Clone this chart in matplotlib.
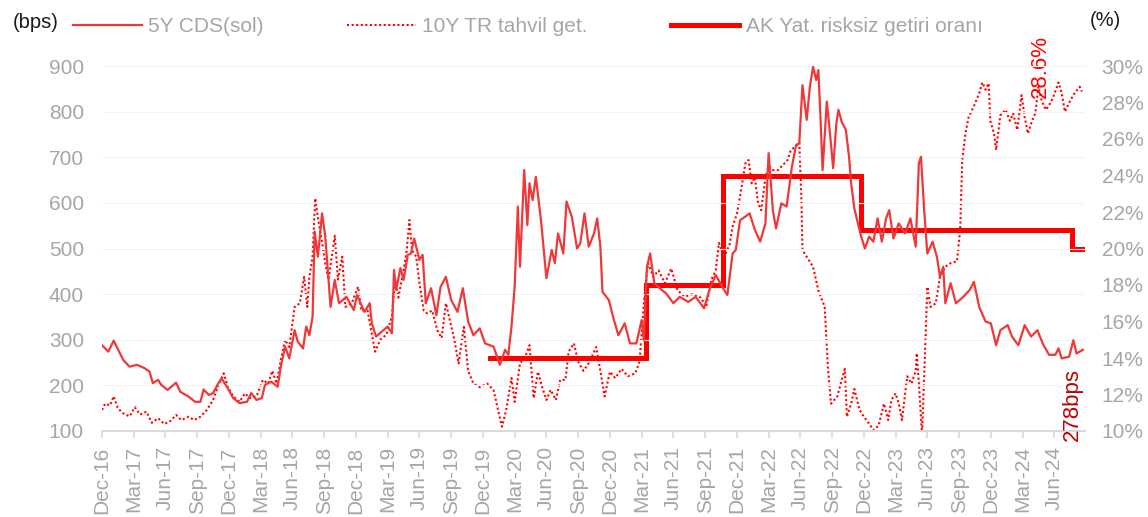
import matplotlib
matplotlib.use("Agg")
import matplotlib.pyplot as plt
from matplotlib.lines import Line2D

plt.rcParams['font.family'] = ['Liberation Sans', 'DejaVu Sans']

# x positions: months elapsed since Dec-16
cds_m = [0.0, 0.6, 1.1, 2.0, 2.6, 3.3, 4.0, 4.5, 4.8, 5.3, 5.6, 6.2, 7.0, 7.4, 8.2, 8.8, 9.3, 9.6, 10.1, 10.5,
         11.0, 11.3, 11.8, 12.4, 13.0, 13.7, 14.1, 14.6, 15.1, 15.4, 16.0, 16.6, 16.9, 17.3, 17.7, 18.2, 18.5, 19.0,
         19.3, 19.6, 19.9, 20.1, 20.4, 20.8, 21.1, 21.6, 22.0, 22.4, 23.1, 23.8, 24.1, 24.8, 25.3, 25.5, 25.9, 26.6,
         27.0, 27.4, 27.6, 27.8, 28.2, 28.5, 28.9, 29.2, 29.5, 30.0, 30.3, 30.6, 31.1, 31.6, 32.0, 32.5, 33.0, 33.6,
         34.1, 34.6, 35.1, 35.7, 36.2, 37.0, 37.6, 38.1, 38.4, 38.7, 39.0, 39.3, 39.5, 39.9, 40.2, 40.4, 40.7, 41.0,
         41.5, 42.0, 42.5, 42.8, 43.1, 43.6, 43.9, 44.4, 44.9, 45.2, 45.6, 46.0, 46.5, 46.8, 47.1, 47.3, 47.9, 48.3,
         48.8, 49.4, 49.9, 50.5, 51.0, 51.2, 51.5, 51.8, 52.2, 52.9, 53.3, 54.0, 54.6, 55.4, 56.1, 56.9, 57.4, 58.0,
         58.8, 59.1, 59.6, 59.9, 60.3, 60.8, 61.2, 61.7, 62.2, 62.7, 63.0, 63.4, 63.7, 64.2, 64.7, 65.2, 65.6, 65.9,
         66.2, 66.6, 66.9, 67.2, 67.5, 67.7, 67.9, 68.1, 68.5, 68.8, 69.1, 69.4, 69.6, 69.9, 70.3, 70.6, 70.8, 71.1,
         71.4, 71.7, 72.1, 72.5, 72.9, 73.3, 73.7, 74.1, 74.4, 74.8, 75.3, 75.9, 76.4, 76.9, 77.2, 77.4, 77.7, 78.0,
         78.5, 78.9, 79.2, 79.5, 79.7, 80.2, 80.7, 81.4, 82.0, 82.4, 82.9, 83.5, 84.0, 84.5, 84.9, 85.6, 86.0, 86.6,
         87.2, 87.8, 88.4, 88.9, 89.5, 90.1, 90.4, 90.7, 91.4, 91.8, 92.1, 92.7]
cds_bps = [288, 274, 298, 256, 241, 245, 238, 230, 205, 212, 201, 190, 206, 186, 175, 164, 164, 191, 179, 183,
           205, 215, 197, 172, 161, 164, 183, 168, 172, 201, 208, 197, 241, 285, 259, 321, 296, 281,
           329, 310, 350, 537, 482, 577, 526, 372, 431, 380, 394, 365, 398, 361, 380, 336, 307, 321,
           329, 314, 453, 409, 457, 431, 486, 489, 522, 475, 486, 380, 413, 354, 416, 438, 387, 361,
           413, 340, 310, 325, 292, 285, 245, 278, 267, 329, 416, 592, 460, 672, 551, 643, 606, 657,
           559, 435, 497, 468, 533, 489, 603, 570, 500, 511, 577, 504, 533, 566, 504, 405, 387, 350,
           310, 336, 292, 292, 343, 299, 460, 489, 424, 409, 402, 380, 394, 383, 394, 369, 409, 442,
           409, 398, 489, 497, 562, 570, 577, 541, 515, 555, 709, 584, 544, 599, 592, 679, 727, 731,
           858, 782, 855, 898, 869, 891, 789, 672, 822, 752, 676, 774, 804, 778, 760, 701, 643, 588,
           559, 530, 500, 526, 515, 566, 515, 566, 584, 522, 555, 533, 566, 504, 687, 701, 584, 489,
           515, 482, 438, 460, 380, 424, 380, 394, 409, 427, 372, 340, 336, 288, 321, 332, 307, 288,
           332, 307, 321, 292, 267, 267, 281, 259, 263, 299, 270, 278]

bond_m = [0.0, 0.3, 0.75, 1.1, 1.5, 2.0, 2.6, 3.1, 3.6, 4.2, 4.7, 5.3, 5.9, 6.5, 7.0, 7.5, 8.2, 8.7, 9.3, 9.9,
          10.5, 11.0, 11.5, 11.9, 12.4, 13.0, 13.5, 14.0, 14.6, 15.2, 15.7, 16.1, 16.5, 16.9, 17.3, 17.7, 18.2,
          18.7, 19.1, 19.4, 19.6, 19.9, 20.15, 20.4, 20.8, 21.1, 21.4, 22.0, 22.3, 22.7, 23.0, 23.6, 24.2, 24.5,
          25.1, 25.8, 26.3, 26.9, 27.4, 27.7, 28.0, 28.5, 28.8, 29.05, 29.3, 29.7, 30.0, 30.4, 30.7, 31.2, 31.7,
          32.1, 32.5, 32.8, 33.3, 33.7, 34.2, 34.6, 35.1, 35.7, 36.4, 37.0, 37.5, 37.8, 38.2, 38.7, 39.0, 39.5,
          40.0, 40.4, 40.8, 41.2, 41.6, 42.0, 42.4, 42.9, 43.3, 43.8, 44.1, 44.6, 45.0, 45.5, 46.1, 46.7, 47.1,
          47.5, 48.0, 48.5, 49.1, 49.7, 50.4, 50.8, 51.3, 51.6, 52.1, 52.6, 53.2, 53.8, 54.4, 55.1, 55.8, 56.6,
          57.1, 57.6, 58.0, 58.3, 58.8, 59.3, 59.6, 60.0, 60.4, 60.8, 61.1, 61.4, 61.7, 62.0, 62.3, 62.7, 63.0,
          63.4, 63.9, 64.8, 65.1, 65.6, 65.9, 66.1, 66.2, 66.6, 67.2, 67.7, 68.3, 68.6, 68.9, 69.5, 70.0, 70.2,
          70.4, 70.8, 71.1, 71.6, 72.0, 72.5, 72.9, 73.4, 73.9, 74.3, 74.6, 75.0, 75.3, 75.6, 76.1, 76.5, 76.9,
          77.0, 77.2, 77.5, 78.0, 78.3, 78.8, 79.2, 79.7, 80.2, 80.8, 81.1, 81.3, 81.6, 81.9, 82.4, 82.9, 83.2,
          83.5, 83.8, 83.95, 84.3, 84.5, 84.9, 85.4, 85.8, 86.1, 86.5, 86.9, 87.2, 87.5, 87.9, 88.2, 88.5, 88.8,
          89.2, 89.6, 89.9, 90.4, 90.7, 91.0, 91.5, 91.9, 92.4, 92.6]
bond_pct = [11.15, 11.5, 11.4, 11.9, 11.25, 10.97, 10.8, 11.3, 10.9, 11.06, 10.45, 10.7, 10.38, 10.56, 10.88, 10.6,
            10.78, 10.6, 10.78, 11.15, 11.7, 12.5, 13.16, 12.4, 11.9, 11.6, 12.06, 11.8, 11.9, 12.8, 12.6, 13.3,
            12.6, 13.9, 15.0, 14.6, 16.8, 17.0, 18.45, 16.8, 18.45, 19.55, 22.75, 21.7, 20.3, 19.2, 18.3, 20.7,
            18.3, 19.55, 16.8, 17.0, 17.9, 16.6, 16.6, 14.35, 15.0, 15.3, 16.3, 18.3, 17.3, 18.8, 19.9, 21.56,
            19.9, 19.55, 18.1, 16.6, 16.45, 16.6, 15.5, 15.1, 17.0, 16.26, 15.0, 13.7, 15.7, 13.3, 12.6, 12.4,
            12.6, 12.25, 10.97, 10.24, 11.15, 12.9, 11.6, 13.7, 14.07, 14.7, 11.8, 13.25, 12.4, 11.7, 12.25, 11.7,
            12.8, 12.8, 14.35, 14.8, 13.8, 13.3, 13.8, 14.6, 13.3, 11.9, 13.25, 12.9, 13.4, 13.0, 13.16, 13.8,
            17.7, 19.2, 18.45, 18.8, 18.1, 18.9, 17.7, 17.36, 17.5, 17.3, 16.8, 18.3, 18.8, 20.3, 19.55, 20.2,
            21.2, 21.9, 23.2, 24.66, 24.85, 23.57, 23.9, 22.5, 22.1, 23.9, 24.5, 24.3, 24.3, 24.85, 25.4, 25.6,
            25.8, 22.66, 19.9, 19.55, 19.0, 17.7, 16.8, 13.5, 11.5, 11.9, 13.0, 13.4, 10.78, 11.5, 12.3, 11.15,
            10.78, 10.4, 10.05, 10.3, 11.5, 10.6, 11.7, 12.06, 11.5, 10.6, 13.0, 12.6, 13.3, 14.26, 12.6, 9.8,
            17.9, 16.8, 17.0, 18.45, 19.0, 19.2, 19.3, 21.0, 24.85, 26.3, 27.2, 27.8, 28.5, 29.1, 28.7, 29.05,
            27.0, 26.3, 25.4, 27.3, 27.6, 27.0, 27.4, 26.5, 28.4, 27.2, 26.3, 27.0, 27.4, 28.86, 28.1, 27.6,
            27.95, 28.3, 29.1, 28.5, 27.5, 28.1, 28.5, 28.86, 28.6]

rf_m = [36.7, 51.4, 58.7, 71.75, 91.7, 92.7]
rf_pct = [14, 18, 24, 21, 20, 20]

tick_m = list(range(0, 91, 3))
tick_labels = ['Dec-16', 'Mar-17', 'Jun-17', 'Sep-17', 'Dec-17', 'Mar-18', 'Jun-18', 'Sep-18', 'Dec-18',
               'Mar-19', 'Jun-19', 'Sep-19', 'Dec-19', 'Mar-20', 'Jun-20', 'Sep-20', 'Dec-20', 'Mar-21',
               'Jun-21', 'Sep-21', 'Dec-21', 'Mar-22', 'Jun-22', 'Sep-22', 'Dec-22', 'Mar-23', 'Jun-23',
               'Sep-23', 'Dec-23', 'Mar-24', 'Jun-24']
left_ticks = [100, 200, 300, 400, 500, 600, 700, 800, 900]
right_ticks = [10, 12, 14, 16, 18, 20, 22, 24, 26, 28, 30]

series_names = ['5Y CDS(sol)', '10Y TR tahvil get.', 'AK Yat. risksiz getiri oranı']

GRAY = '#a6a6a6'
FS = 15

fig = plt.figure(figsize=(11.48, 5.17), dpi=100)
ax = fig.add_axes([102 / 1148, 1 - 431 / 517, (1085 - 102) / 1148, (431 - 66) / 517])
ax2 = ax.twinx()

ax.plot(cds_m, cds_bps, color='#f03838', lw=1.6, zorder=3)
ax2.plot(bond_m, bond_pct, color='#ff0000', lw=1.5, linestyle=(0, (1, 1.2)), zorder=2)
ax2.plot(rf_m, rf_pct, color='#ff0000', lw=3.6, drawstyle='steps-post', zorder=4, solid_joinstyle='miter')

ax.set_xlim(0, 92.9)
ax.set_ylim(100, 900)
ax2.set_ylim(10, 30)
ax.set_zorder(ax2.get_zorder() + 1)
ax.patch.set_visible(False)

ax.set_xticks(tick_m)
ax.set_xticklabels(tick_labels, rotation=90, fontsize=FS, color=GRAY)
ax.set_yticks(left_ticks)
ax.set_yticklabels([str(v) for v in left_ticks], fontsize=FS, color=GRAY)
ax2.set_yticks(right_ticks)
ax2.set_yticklabels([f'{v}%' for v in right_ticks], fontsize=FS, color=GRAY)

ax.tick_params(axis='x', length=5, width=1.2, color='#d9d9d9', pad=6)
ax.tick_params(axis='y', length=0, pad=13)
ax2.tick_params(axis='y', length=0, pad=12)

ax.grid(axis='y', color='#f0f4f4', lw=0.8)
ax.set_axisbelow(True)
for a in (ax, ax2):
    for s in ('top', 'left', 'right'):
        a.spines[s].set_visible(False)
    a.spines['bottom'].set_visible(False)
ax.spines['bottom'].set_visible(True)
ax.spines['bottom'].set_color('#d9d9d9')
ax.spines['bottom'].set_linewidth(1.5)

# annotations
ax.text(91.7, 158, '278bps', rotation=90, ha='center', va='center', fontsize=16,
        color='#c00000', clip_on=False, zorder=6)
ax2.text(88.7, 30.0, '28.6%', rotation=90, ha='center', va='center', fontsize=16,
         color='#ff0000', clip_on=False, zorder=6)

# axis unit labels
fig.text(13 / 1148, 1 - 22 / 517, '(bps)', fontsize=14.5, color='#1a1a1a', ha='left', va='center')
fig.text(1090 / 1148, 1 - 21 / 517, '(%)', fontsize=14.5, color='#1a1a1a', ha='left', va='center')

handles = [Line2D([], [], color='#f03838', lw=1.6),
           Line2D([], [], color='#ff0000', lw=1.5, linestyle=(0, (1, 1.2))),
           Line2D([], [], color='#ff0000', lw=3.6)]
leg = fig.legend(handles, series_names, loc='center left', bbox_to_anchor=(73 / 1148, 1 - 27 / 517),
                 ncol=3, frameon=False, fontsize=FS, handlelength=3.3, handletextpad=0.3,
                 columnspacing=4.0, borderpad=0, borderaxespad=0)
for t in leg.get_texts():
    t.set_color(GRAY)

fig.savefig('out.png', dpi=100)
